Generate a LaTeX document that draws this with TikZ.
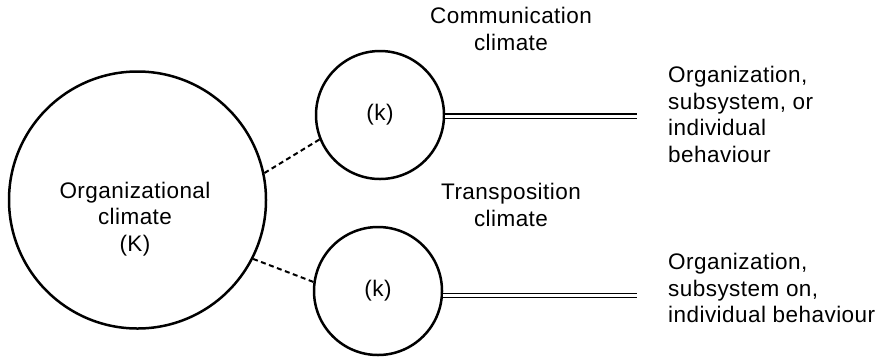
\documentclass[tikz,border=0pt]{standalone}
\usepackage{fontspec}
\setmainfont[LetterSpace=2]{Liberation Sans}
\begin{document}
\begin{tikzpicture}[x=1pt,y=-1pt,
  ring/.style={draw, circle, line width=2.5pt, inner sep=0pt},
  txt/.style={font=\fontsize{22.5}{26.5}\selectfont, inner sep=0pt},
  tie/.style={line width=2pt, dash pattern=on 5pt off 3.5pt},
  rail/.style={line width=1.3pt, double, double distance=3pt}]
\useasboundingbox (0,0) rectangle (882,360);

% the climates
\node[ring, minimum size=257pt] (org) at (137.5,200) {};
\node[txt, align=center] (orgtext) at (135,219) {Organizational\\climate\\(K)};
\node[ring, txt, minimum size=128pt] (comm) at (380,115) {(k)};
\node[ring, txt, minimum size=128pt] (trans) at (378,291) {(k)};

% headings of the two sub-climates
\node[txt, align=center] (commtext) at (511,29) {Communication\\climate};
\node[txt, align=center] (transtext) at (511,205) {Transposition\\climate};

% behaviour labels
\node[txt, align=left, anchor=west] (behA) at (668,114.5) {Organization,\\subsystem, or\\individual\\behaviour};
\node[txt, align=left, anchor=west] (behB) at (668,288) {Organization,\\subsystem on,\\individual behaviour};

% ends of the double rails
\coordinate (railA) at (637,116);
\coordinate (railB) at (637,295.5);

% dashed links from the organizational climate
\draw[tie] (org.12.4) -- (comm.202.6);
\draw[tie] (org.-27.7) -- (trans.172.8);

% double rails towards behaviour
\draw[rail] (comm.-1) -- (comm.-1 -| railA);
\draw[rail] (trans.-4) -- (trans.-4 -| railB);
\end{tikzpicture}
\end{document}
